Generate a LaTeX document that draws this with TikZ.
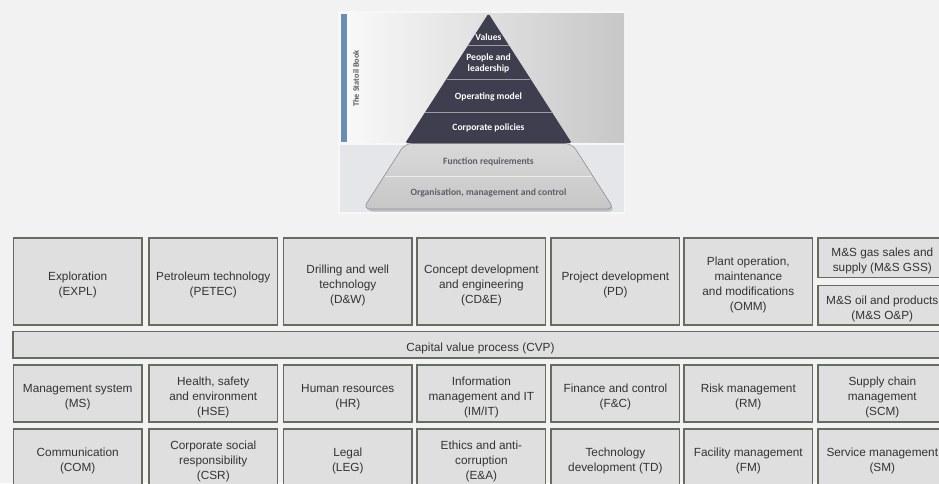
\documentclass[tikz,border=0pt]{standalone}
\usepackage{fontspec}
\setmainfont{Liberation Sans}
\newfontfamily\pyrfont{Carlito}
\usetikzlibrary{calc}
\definecolor{pagebg}{HTML}{F2F2F2}
\definecolor{boxfill}{HTML}{DFDFDF}
\definecolor{boxline}{HTML}{656C60}
\definecolor{boxtext}{HTML}{333333}
\definecolor{slate}{HTML}{3E3E4E}
\definecolor{slateline}{HTML}{9C9CAA}
\definecolor{bookblue}{HTML}{6A8DB2}
\definecolor{lowerbg}{HTML}{E4E6E9}
\definecolor{lowertext}{HTML}{5E5E68}
\definecolor{trapedge}{HTML}{8E8E96}
\tikzset{
  boxlabel/.style={inner sep=0pt, align=center, text=boxtext, yshift=-3.5pt,
    font=\fontsize{11.8}{15}\selectfont},
  unit/.style={draw=boxline, fill=boxfill, line width=1.6pt,
    minimum width=128.4pt, inner sep=0pt,
    label={[boxlabel]center:#1}},
  tall/.style={unit={#1}, minimum height=86.8pt},
  half/.style={unit={#1}, minimum height=39.6pt},
  row/.style={unit={#1}, minimum height=56.8pt},
  pyrlabel/.style={text=white, font=\pyrfont\bfseries\fontsize{9.6}{10.5}\selectfont, align=center, inner sep=0pt},
  baselabel/.style={text=lowertext, font=\pyrfont\bfseries\fontsize{9.6}{10.5}\selectfont, inner sep=0pt},
}
\begin{document}
\begin{tikzpicture}[x=1pt,y=-1pt]
\useasboundingbox (0,0) rectangle (939,483);
\clip (0,0) rectangle (939,483);
\fill[pagebg] (0,0) rectangle (939,483);

% --- book panel -------------------------------------------------------
\fill[white!97!black] (338,11) rectangle (625,214);
\shade[left color=white!98!black, right color=white!78!black] (340,13) rectangle (624,142);
\fill[lowerbg] (340,144.5) rectangle (624,212);
\fill[bookblue] (341,14) rectangle (346.5,141.5);
\node[rotate=90, text=black!65, font=\pyrfont\bfseries\fontsize{8.3}{9}\selectfont, inner sep=0pt]
  (booktitle) at (356,78.5) {The Statoil Book};

% lower, light part of the pyramid (with a soft shadow)
\fill[black!25, rounded corners=7pt]
  (404.5,145) -- (572.5,145) -- (615.5,211.5) -- (365.5,211.5) -- cycle;
\shade[top color=white!85!black, bottom color=white!78!black, draw=trapedge, line width=0.6pt, rounded corners=7pt]
  (405,143.5) -- (572,143.5) -- (614,209) -- (363,209) -- cycle;
\draw[white!92!black, line width=0.8pt] (384.6,176.2) -- (592.4,176.2);

% upper, dark part of the pyramid
\fill[slate, rounded corners=1.5pt] (488.5,13.5) -- (571.7,143) -- (405.3,143) -- cycle;
\draw[slateline, line width=1pt] (468.3,45.5) -- (508.7,45.5);
\draw[slateline, line width=1pt] (446.7,79) -- (530.3,79);
\draw[slateline, line width=1pt] (425.1,112.5) -- (551.9,112.5);

\node[pyrlabel] (values)    at (488.5,37.5) {Values};
\node[pyrlabel] (people)    at (488.5,63.5) {People and\\leadership};
\node[pyrlabel] (operating) at (488.5,96.5) {Operating model};
\node[pyrlabel] (policies)  at (488.5,127.5){Corporate policies};
\node[baselabel] (funcreq)  at (488.5,161.5){Function requirements};
\node[baselabel] (orgmc)    at (488.5,192.5){Organisation, management and control};

% --- business areas -----------------------------------------------------
\node[tall={Exploration\\(EXPL)}]                              (expl)  at (77.7,281.5)  {};
\node[tall={Petroleum technology\\(PETEC)}]                    (petec) at (213.3,281.5) {};
\node[tall={Drilling and well\\technology\\(D\&W)}]            (dw)    at (347.8,281.5) {};
\node[tall={Concept development\\and engineering\\(CD\&E)}]    (cde)   at (481.4,281.5) {};
\node[tall={Project development\\(PD)}]                        (pd)    at (615.4,281.5) {};
\node[tall={Plant operation{,}\\maintenance\\and modifications\\(OMM)}] (omm) at (748.3,281.5) {};
\node[half={M\&S gas sales and\\supply (M\&S GSS)}]            (gss)   at (882.3,257.8) {};
\node[half={M\&S oil and products\\(M\&S O\&P)}]               (oap)   at (882.3,305.2) {};

% --- capital value process --------------------------------------------
\node[unit={Capital value process (CVP)}, minimum width=935.4pt, minimum height=26.4pt]
  (cvp) at (480.4,344.7) {};

% --- functions ----------------------------------------------------------
\node[row={Management system\\(MS)}]                 (ms)   at (77.7,393.5)  {};
\node[row={Health{,} safety\\and environment\\(HSE)}] (hse) at (213.3,393.5) {};
\node[row={Human resources\\(HR)}]                   (hr)   at (347.8,393.5) {};
\node[row={Information\\management and IT\\(IM/IT)}] (imit) at (481.4,393.5) {};
\node[row={Finance and control\\(F\&C)}]             (fc)   at (615.4,393.5) {};
\node[row={Risk management\\(RM)}]                   (rm)   at (748.3,393.5) {};
\node[row={Supply chain\\management\\(SCM)}]         (scm)  at (882.3,393.5) {};

\node[row={Communication\\(COM)}]                    (com)  at (77.7,457.5)  {};
\node[row={Corporate social\\responsibility\\(CSR)}] (csr)  at (213.3,457.5) {};
\node[row={Legal\\(LEG)}]                            (leg)  at (347.8,457.5) {};
\node[row={Ethics and anti-\\corruption\\(E\&A)}]    (ea)   at (481.4,457.5) {};
\node[row={Technology\\development (TD)}]            (td)   at (615.4,457.5) {};
\node[row={Facility management\\(FM)}]               (fm)   at (748.3,457.5) {};
\node[row={Service management\\(SM)}]                (sm)   at (882.3,457.5) {};
\end{tikzpicture}
\end{document}
